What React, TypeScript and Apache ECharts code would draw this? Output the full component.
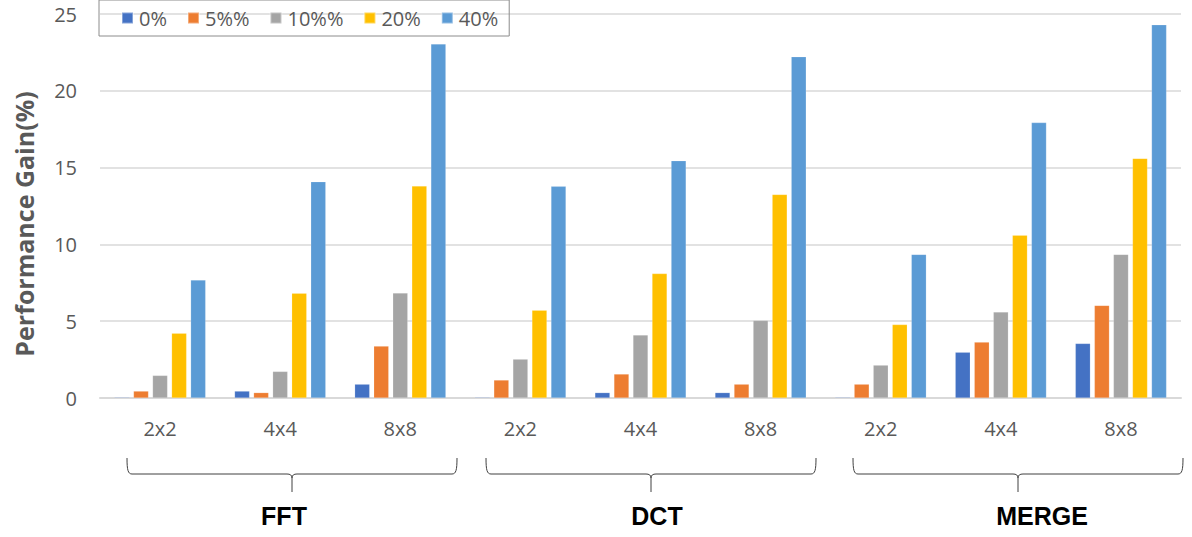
import React, { useEffect, useRef } from "react";
import * as echarts from "echarts";

// Block sizes repeated under each transform group
const categories = ["2x2", "4x4", "8x8", "2x2", "4x4", "8x8", "2x2", "4x4", "8x8"];
const groups = ["FFT", "DCT", "MERGE"];
const seriesNames = ["0%", "5%%", "10%%", "20%", "40%"];
const colors = ["#4472C4", "#ED7D31", "#A5A5A5", "#FFC000", "#5B9BD5"];

const gain0 = [0.05, 0.45, 0.9, 0.05, 0.35, 0.35, 0.05, 2.98, 3.55];
const gain5 = [0.45, 0.35, 3.38, 1.17, 1.56, 0.9, 0.9, 3.64, 6.03];
const gain10 = [1.47, 1.73, 6.83, 2.53, 4.1, 5.05, 2.14, 5.6, 9.35];
const gain20 = [4.22, 6.82, 13.8, 5.72, 8.1, 13.25, 4.78, 10.6, 15.6];
const gain40 = [7.68, 14.08, 23.05, 13.78, 15.45, 22.22, 9.35, 17.93, 24.3];

const yTicks = [0, 5, 10, 15, 20, 25];

// Curly brace spanning one group of three categories
const BRACE_PATH =
  "M0,0 C0,12 1,16 5,16 L160,16 C163,16 165,17 165,20 L165,34 M165,20 C165,17 167,16 170,16 L325,16 C329,16 330,12 330,0";
echarts.graphic.registerShape("brace", echarts.graphic.extendPath(BRACE_PATH, {}) as any);

export default function App() {
  const ref = useRef<HTMLDivElement>(null);

  useEffect(() => {
    if (!ref.current) return;
    document.body.style.margin = "0";
    const chart = echarts.init(ref.current, undefined, { renderer: "svg" });
    const values = [gain0, gain5, gain10, gain20, gain40];
    const textColor = "#595959";
    const font = "'Open Sans', sans-serif";

    const braceX = [127, 486, 853];
    const labelX = [284, 657, 1042];

    const graphic: any[] = [
      {
        type: "text",
        x: 24,
        y: 224,
        rotation: Math.PI / 2,
        style: {
          text: "Performance Gain(%)",
          fill: textColor,
          font: `bold 25px ${font}`,
          textAlign: "center",
          textVerticalAlign: "middle",
        },
      },
    ];
    groups.forEach((g, i) => {
      graphic.push({
        type: "brace",
        x: braceX[i],
        y: 458,
        style: { stroke: "#404040", lineWidth: 1, fill: null },
      });
      graphic.push({
        type: "text",
        x: labelX[i],
        y: 516,
        style: {
          text: g,
          fill: "#000000",
          font: "bold 25px 'Liberation Sans', Arial, sans-serif",
          textAlign: "center",
          textVerticalAlign: "middle",
        },
      });
    });

    chart.setOption({
      animation: false,
      color: colors,
      grid: { left: 100, right: 11, top: 14, bottom: 139, containLabel: false },
      legend: {
        left: 99,
        top: 0,
        width: 430,
        padding: [8, 11, 8, 22],
        itemWidth: 11,
        itemHeight: 11,
        itemGap: 20,
        borderColor: "#8c8c8c",
        borderWidth: 1,
        icon: "rect",
        textStyle: { color: textColor, fontSize: 20, fontFamily: font, padding: [0, 0, 0, 1] },
        data: seriesNames,
      },
      xAxis: {
        type: "category",
        data: categories,
        axisLine: { lineStyle: { color: "#d9d9d9", width: 2 } },
        axisTick: { show: false },
        axisLabel: { color: textColor, fontSize: 20, fontFamily: font, margin: 20 },
      },
      yAxis: {
        type: "value",
        min: yTicks[0],
        max: yTicks[yTicks.length - 1],
        interval: 5,
        axisLine: { show: false },
        axisTick: { show: false },
        axisLabel: { color: textColor, fontSize: 20, fontFamily: font, margin: 23 },
        splitLine: { lineStyle: { color: "#d9d9d9", width: 1.5 } },
      },
      series: seriesNames.map((name, i) => ({
        name,
        type: "bar",
        data: values[i],
        barWidth: 15,
        barGap: "27%",
        itemStyle: { color: colors[i], borderColor: "rgba(255,255,255,0.35)", borderWidth: 0.5 },
      })),
      graphic,
    });

    return () => chart.dispose();
  }, []);

  return <div ref={ref} style={{ width: 1192, height: 537 }} />;
}
